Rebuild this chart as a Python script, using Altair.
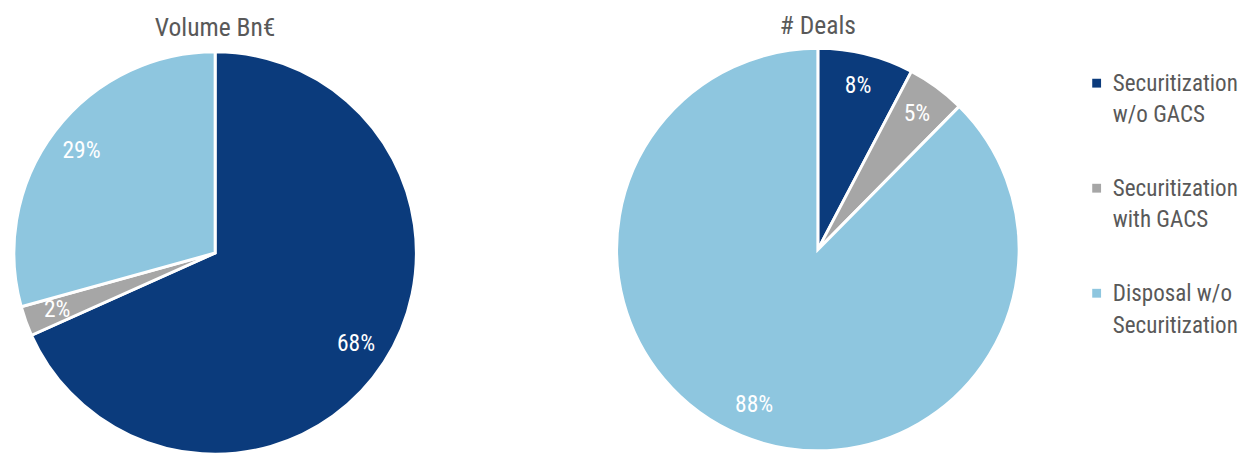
import altair as alt
import pandas as pd

FONT = "Roboto Condensed, Liberation Sans Narrow, DejaVu Sans Condensed, Roboto"

categories = ["Securitization w/o GACS", "Securitization with GACS", "Disposal w/o Securitization"]
legend_labels = ["Securitization\nw/o GACS", "Securitization\nwith GACS", "Disposal w/o\nSecuritization"]
colors = ["#0B3B7C", "#A6A6A6", "#8EC6DF"]

volume_share = [68.3, 2.4, 29.3]
deals_share = [7.7, 4.7, 87.6]
titles = ["Volume Bn€", "# Deals"]

color_scale = alt.Scale(domain=categories, range=colors)


def pie(values, title, height, title_y):
    df = pd.DataFrame({"cat": categories, "value": values, "order": list(range(len(categories)))})
    base = alt.Chart(df).transform_calculate(
        label="format(datum.value, '.0f') + '%'"
    )
    arcs = base.mark_arc(outerRadius=205, stroke="white", strokeWidth=3).encode(
        theta=alt.Theta("value:Q", stack=True),
        order=alt.Order("order:Q"),
        color=alt.Color("cat:N", scale=color_scale, legend=None),
    )
    text = base.mark_text(radius=171, fontSize=24, font=FONT, color="white").encode(
        theta=alt.Theta("value:Q", stack=True),
        order=alt.Order("order:Q"),
        text="label:N",
    )
    ttl = alt.Chart(pd.DataFrame({"t": [title]})).mark_text(
        fontSize=26, font=FONT, color="#595959", align="center", baseline="alphabetic"
    ).encode(x=alt.value(205), y=alt.value(title_y), text="t:N")
    return alt.layer(arcs, text, ttl).properties(width=410, height=height)


p1 = pie(volume_share, titles[0], 490, 24)
p2 = pie(deals_share, titles[1], 483, 22)

leg_df = pd.DataFrame({"cat": categories, "label": legend_labels})
leg_base = alt.Chart(leg_df).encode(
    y=alt.Y("cat:N", sort=categories, axis=None,
            scale=alt.Scale(type="point", padding=0, range=[72, 286]))
)
leg_sq = leg_base.mark_square(size=81, opacity=1).encode(
    x=alt.value(489),
    color=alt.Color("cat:N", scale=color_scale, legend=None),
)
leg_tx = leg_base.mark_text(align="left", baseline="middle", fontSize=23.5, font=FONT,
                            color="#595959", lineBreak="\n", lineHeight=32, dy=1).encode(
    x=alt.value(505.5),
    text="label:N",
)

p2full = alt.layer(p2, leg_sq, leg_tx).resolve_scale(y="independent")

chart = alt.hconcat(p1, p2full, spacing=192).properties(
    padding={"left": 0, "top": 0, "right": 0, "bottom": 0}
).configure_view(stroke=None)

chart.save("out.html", embed_options={"renderer": "svg", "actions": False})
